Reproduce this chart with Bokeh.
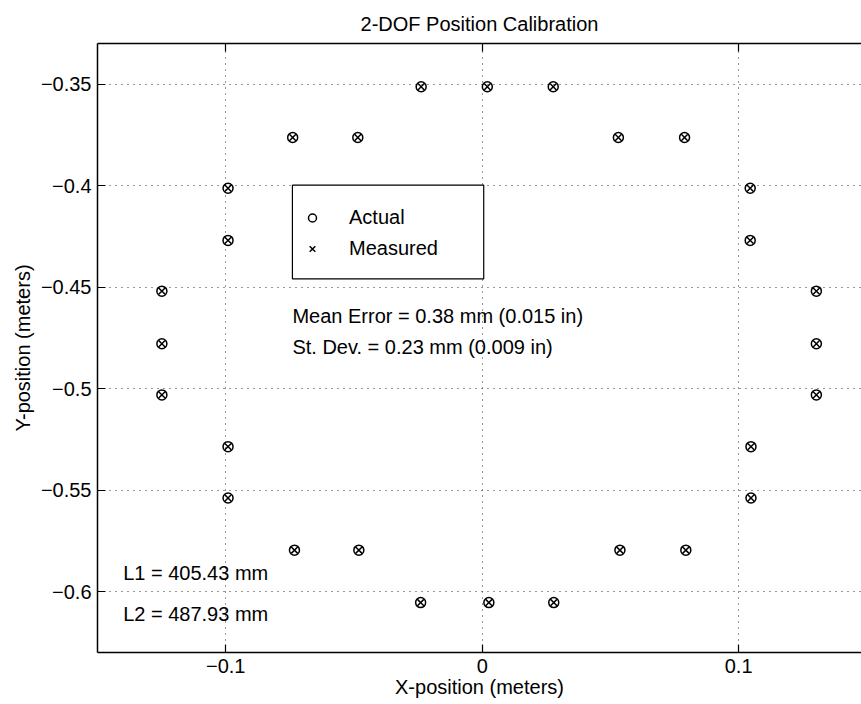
from bokeh.plotting import figure
from bokeh.models import Range1d, FixedTicker, LinearAxis, Label, Legend, LegendItem, BoxAnnotation
from bokeh.embed import file_html
from bokeh.resources import INLINE

FONT = "Liberation Sans"

# ---- data (meters) ----
actual_x = [-0.0238, 0.0020, 0.0277,
            -0.0739, -0.0485, 0.0531, 0.0789,
            -0.0991, 0.1045,
            -0.0991, 0.1045,
            -0.1249, 0.1303,
            -0.1249, 0.1303,
            -0.1249, 0.1303,
            -0.0991, 0.1048,
            -0.0991, 0.1048,
            -0.0732, -0.0481, 0.0537, 0.0794,
            -0.0240, 0.0026, 0.0279]
actual_y = [-0.3513, -0.3513, -0.3513,
            -0.3763, -0.3763, -0.3763, -0.3763,
            -0.4013, -0.4013,
            -0.4270, -0.4270,
            -0.4520, -0.4520,
            -0.4779, -0.4779,
            -0.5031, -0.5031,
            -0.5286, -0.5286,
            -0.5539, -0.5539,
            -0.5796, -0.5796, -0.5796, -0.5796,
            -0.6054, -0.6054, -0.6054]
measured_x = [-0.0238, 0.0020, 0.0277,
              -0.0739, -0.0485, 0.0531, 0.0789,
              -0.0991, 0.1045,
              -0.0991, 0.1045,
              -0.1249, 0.1303,
              -0.1249, 0.1303,
              -0.1249, 0.1303,
              -0.0991, 0.1048,
              -0.0991, 0.1048,
              -0.0732, -0.0481, 0.0537, 0.0794,
              -0.0240, 0.0026, 0.0279]
measured_y = [-0.3513, -0.3513, -0.3513,
              -0.3763, -0.3763, -0.3763, -0.3763,
              -0.4013, -0.4013,
              -0.4270, -0.4270,
              -0.4520, -0.4520,
              -0.4779, -0.4779,
              -0.5031, -0.5031,
              -0.5286, -0.5286,
              -0.5539, -0.5539,
              -0.5796, -0.5796, -0.5796, -0.5796,
              -0.6054, -0.6054, -0.6054]

x_ticks = [-0.1, 0.0, 0.1]
x_tick_labels = ["\u22120.1", "0", "0.1"]
y_ticks = [-0.6, -0.55, -0.5, -0.45, -0.4, -0.35]
y_tick_labels = ["\u22120.6", "\u22120.55", "\u22120.5", "\u22120.45", "\u22120.4", "\u22120.35"]

title_text = "2-DOF Position Calibration"
x_label = "X-position (meters)"
y_label = "Y-position (meters)"
stats_lines = ["Mean Error = 0.38 mm (0.015 in)", "St. Dev. = 0.23 mm (0.009 in)"]
link_lines = ["L1 = 405.43 mm", "L2 = 487.93 mm"]

p = figure(width=861, height=704, output_backend="svg", toolbar_location=None,
           x_range=Range1d(-0.15, 0.1479), y_range=Range1d(-0.63, -0.33),
           min_border_left=97, min_border_right=0, min_border_top=43, min_border_bottom=52,
           background_fill_color="white", border_fill_color="white")
p.outline_line_color = None

p.title.text = title_text
p.title.align = "center"
p.title.offset = 8
p.title.text_font = FONT
p.title.text_font_size = "20px"
p.title.text_font_style = "normal"
p.title.text_color = "black"
p.title.standoff = 18

# axes
xa = p.xaxis[0]
xa.ticker = FixedTicker(ticks=x_ticks)
xa.major_label_overrides = {t: l for t, l in zip(x_ticks, x_tick_labels)}
ya = p.yaxis[0]
ya.ticker = FixedTicker(ticks=y_ticks)
ya.major_label_overrides = {t: l for t, l in zip(y_ticks, y_tick_labels)}
for ax in (xa, ya):
    ax.major_tick_in = 8
    ax.major_tick_out = 0
    ax.minor_tick_line_color = None
    ax.axis_line_width = 1.5
    ax.axis_line_color = "black"
    ax.major_tick_line_color = "black"
    ax.major_tick_line_width = 1.2
    ax.major_label_text_font = FONT
    ax.major_label_text_font_size = "20px"
    ax.major_label_text_color = "black"
    ax.axis_label_text_font = FONT
    ax.axis_label_text_font_size = "20px"
    ax.axis_label_text_font_style = "normal"
    ax.axis_label_text_color = "black"
    ax.axis_label_standoff = 0
xa.major_label_standoff = 6
ya.major_label_standoff = 6
xa.axis_label = x_label
ya.axis_label = y_label
ya.axis_label_standoff = 4

top = LinearAxis(ticker=FixedTicker(ticks=x_ticks), major_tick_in=8, major_tick_out=0,
                 minor_tick_line_color=None, axis_line_width=1.5, axis_line_color="black",
                 major_label_overrides={t: "" for t in x_ticks}, major_label_standoff=0,
                 major_tick_line_color="black", major_tick_line_width=1.2)
p.add_layout(top, "above")

for g in (p.xgrid[0], p.ygrid[0]):
    g.grid_line_color = "black"
    g.grid_line_dash = "1 5"
    g.grid_line_width = 1
    g.grid_line_alpha = 0.8

r_a = p.scatter(actual_x, actual_y, marker="circle", size=10, fill_color=None,
                line_color="black", line_width=1.5)
r_m = p.scatter(measured_x, measured_y, marker="x", size=9,
                line_color="black", line_width=1.5)

# legend frame (MATLAB-style box), then the legend entries on top of it
p.add_layout(BoxAnnotation(left=-0.0740, right=0.0006, top=-0.3998, bottom=-0.4459,
                           fill_color="white", fill_alpha=1, line_color="black",
                           line_width=1.2, line_alpha=1))

legend = Legend(items=[LegendItem(label="Actual", renderers=[r_a]),
                       LegendItem(label="Measured", renderers=[r_m])],
                location=(205, 388), padding=0, spacing=0, margin=0,
                glyph_width=20, glyph_height=31, label_height=31, label_width=100,
                label_standoff=27, label_text_font=FONT, label_text_font_size="20px",
                label_text_color="black",
                border_line_color=None, background_fill_alpha=0)
p.add_layout(legend)

for txt, yy in zip(stats_lines, [-0.4643, -0.4797]):
    p.add_layout(Label(x=-0.074, y=yy, text=txt, text_baseline="middle",
                       text_font=FONT, text_font_size="20px", text_color="black"))
for txt, yy in zip(link_lines, [-0.5906, -0.6111]):
    p.add_layout(Label(x=-0.14, y=yy, text=txt, text_baseline="middle",
                       text_font=FONT, text_font_size="20px", text_color="black"))

open("out.html", "w").write(file_html(p, INLINE))
